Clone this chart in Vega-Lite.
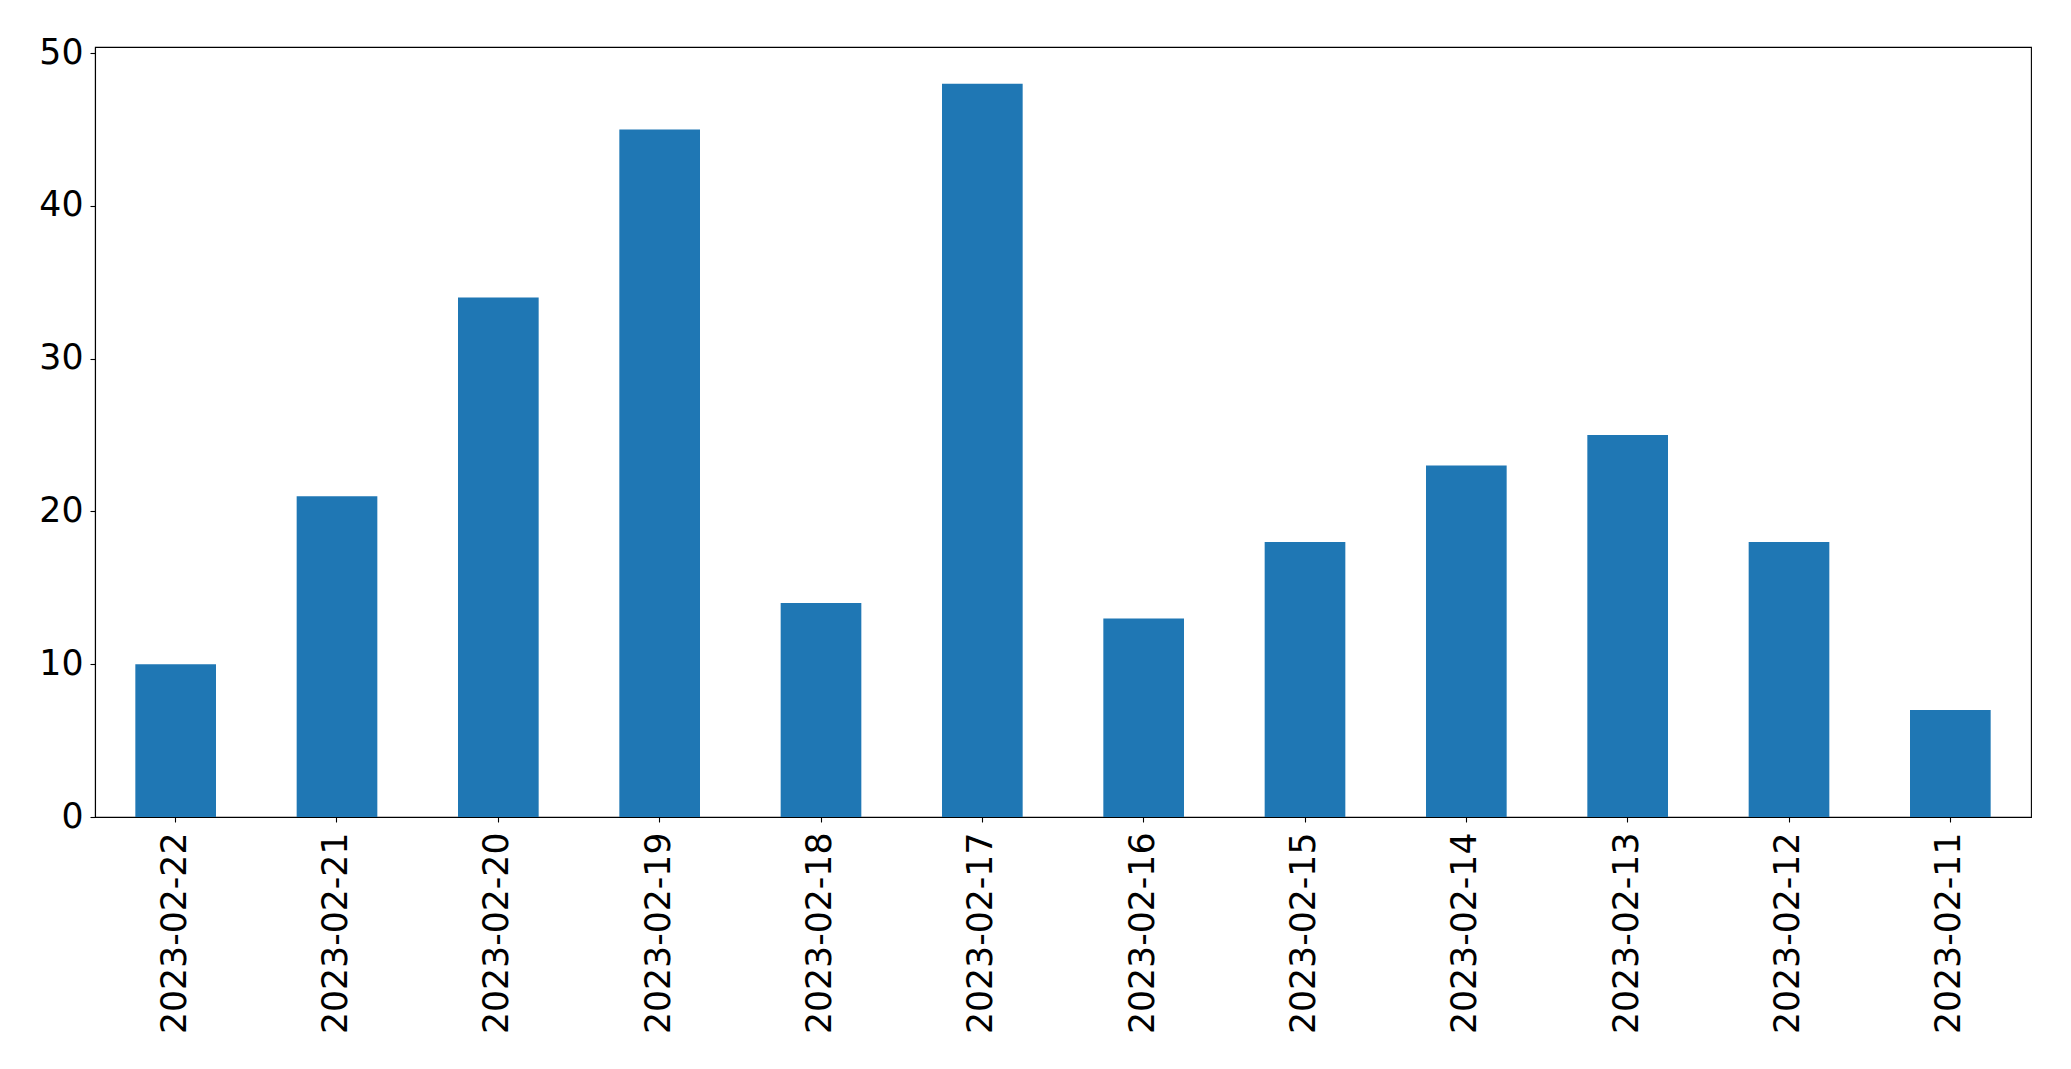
{
  "$schema": "https://vega.github.io/schema/vega-lite/v6.json",
  "width": 1936,
  "height": 770,
  "autosize": {"type": "none"},
  "padding": {"left": 95, "top": 47, "right": 40, "bottom": 252},
  "background": "white",
  "config": {
    "view": {"stroke": "black", "strokeWidth": 1.1},
    "axis": {
      "labelFont": "DejaVu Sans",
      "labelFontSize": 34.7,
      "labelColor": "black",
      "labelLimit": 0,
      "domainColor": "black",
      "domainWidth": 1.1,
      "tickColor": "black",
      "tickWidth": 1.1,
      "tickSize": 5,
      "grid": false,
      "title": null
    }
  },
  "data": {
    "values": [
      {"date": "2023-02-22", "count": 10},
      {"date": "2023-02-21", "count": 21},
      {"date": "2023-02-20", "count": 34},
      {"date": "2023-02-19", "count": 45},
      {"date": "2023-02-18", "count": 14},
      {"date": "2023-02-17", "count": 48},
      {"date": "2023-02-16", "count": 13},
      {"date": "2023-02-15", "count": 18},
      {"date": "2023-02-14", "count": 23},
      {"date": "2023-02-13", "count": 25},
      {"date": "2023-02-12", "count": 18},
      {"date": "2023-02-11", "count": 7}
    ]
  },
  "mark": {"type": "bar", "color": "#1f77b4"},
  "encoding": {
    "x": {
      "field": "date",
      "type": "nominal",
      "sort": null,
      "scale": {"paddingInner": 0.5, "paddingOuter": 0.25},
      "axis": {"labelAngle": -90, "labelPadding": 10, "labelAlign": "right", "labelBaseline": "middle"}
    },
    "y": {
      "field": "count",
      "type": "quantitative",
      "scale": {"domain": [0, 50.4], "nice": false, "zero": true},
      "axis": {"values": [0, 10, 20, 30, 40, 50], "labelPadding": 7}
    }
  }
}
